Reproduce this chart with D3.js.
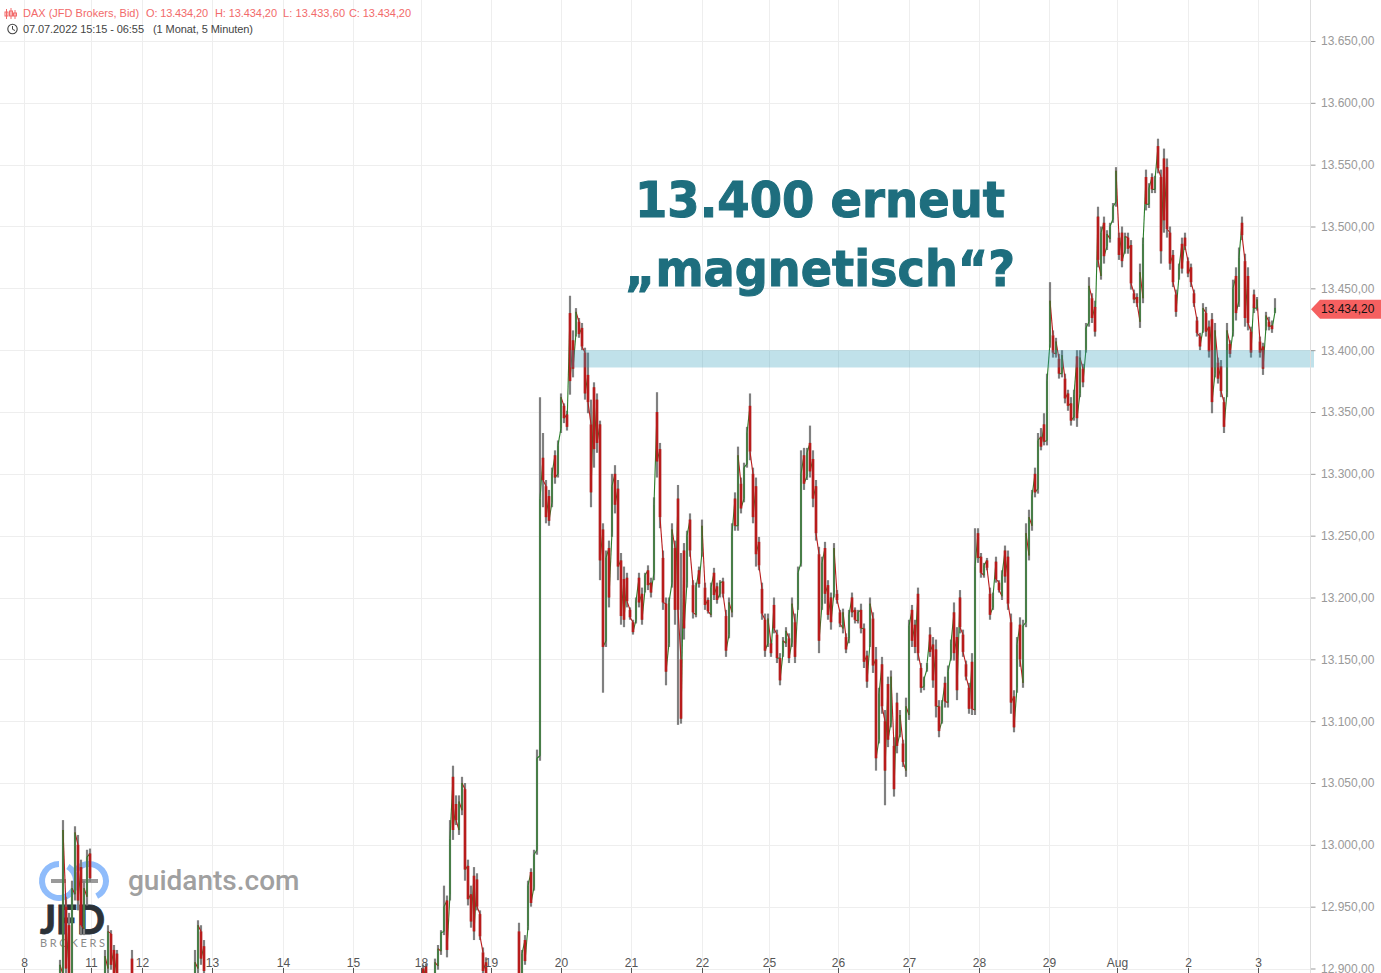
<!DOCTYPE html>
<html><head><meta charset="utf-8">
<script src="https://cdn.jsdelivr.net/npm/d3@7"></script>
<style>
html,body{margin:0;padding:0;background:#fff;overflow:hidden}
svg{display:block}
text{font-family:"Liberation Sans",Arial,sans-serif}
</style></head><body><svg id="c" width="1381" height="973"></svg>
<script>
// Rows are [high, low, open, close]
const jul08=[[12907,12890,12892,12903],[13020,12890,12895,13012],[12958,12895,12950,12900],[12945,12890,12935,12895],[12971,12890,12895,12965],[13015,12955,12960,13010],[13008,12947,13000,12955],[12988,12927,12982,12935],[12971,12927,12932,12965],[12996,12951,12958,12990],[12997,12970,12993,12973]];
const jul11a=[[12915,12890,12892,12910],[12935,12895,12900,12930],[12931,12899,12928,12903],[12919,12890,12915,12893],[12915,12890,12912,12893]];
const jul11b=[[12915,12890,12908,12892]];
const jul12=[[12915,12890,12893,12905],[12939,12895,12900,12935],[12935,12903,12930,12908],[12923,12895,12918,12898]];
const jul15=[[12903,12890,12900,12892],[12904,12890,12902,12893]];
const jul18=[[12908,12890,12892,12905],[12919,12899,12902,12916],[12931,12911,12914,12929],[12967,12927,12930,12950],[12959,12909,12955,12915],[13020,12955,12960,13005],[13064,13004,13055,13012],[13040,13016,13033,13020],[13040,13008,13012,13035],[13055,13024,13028,13050],[13050,12971,13045,12980],[12988,12951,12983,12956],[12967,12933,12960,12938],[12982,12923,12975,12930],[12977,12947,12972,12950],[12947,12923,12944,12926],[12917,12895,12913,12898],[12909,12890,12905,12892]];
const jul19=[[12937,12890,12930,12893],[12915,12890,12892,12912],[12927,12903,12923,12906],[12971,12931,12934,12967],[12981,12950,12978,12953],[12996,12963,12966,12992],[13077,12992,12996,13070],[13362,13068,13072,13280],[13333,13273,13313,13295],[13295,13260,13290,13265],[13287,13258,13282,13262],[13305,13273,13277,13300],[13319,13292,13315,13297],[13327,13297,13300,13323]];
const jul20=[[13365,13333,13337,13362],[13357,13341,13355,13345],[13351,13335,13348,13338],[13444,13364,13430,13375],[13416,13378,13408,13385],[13434,13411,13414,13431],[13426,13410,13423,13413],[13422,13400,13418,13403],[13402,13360,13398,13365],[13398,13349,13380,13358],[13360,13273,13340,13285],[13374,13305,13370,13320],[13365,13317,13360,13325],[13343,13214,13340,13230],[13260,13123,13255,13160],[13238,13160,13165,13232],[13246,13192,13240,13200],[13300,13249,13253,13290],[13307,13268,13300,13275],[13295,13214,13288,13225],[13236,13178,13230,13185],[13225,13176,13215,13182],[13220,13192,13216,13197]];
const jul21=[[13192,13182,13190,13184],[13182,13170,13180,13172],[13200,13179,13182,13197],[13220,13192,13216,13196],[13208,13178,13203,13182],[13220,13204,13206,13218],[13226,13206,13222,13210],[13216,13200,13212,13204],[13281,13214,13220,13275],[13366,13297,13350,13310],[13325,13256,13320,13265],[13238,13190,13232,13196],[13200,13129,13195,13140],[13200,13160,13163,13196],[13260,13208,13212,13255],[13246,13178,13240,13190],[13291,13097,13280,13190],[13236,13098,13150,13102],[13244,13166,13238,13175],[13254,13208,13212,13250],[13268,13233,13263,13238],[13214,13183,13210,13188],[13212,13184,13186,13208],[13225,13208,13222,13211]];
const jul22=[[13263,13233,13237,13258],[13212,13190,13208,13194],[13200,13187,13198,13189],[13212,13184,13186,13208],[13224,13198,13220,13202],[13212,13195,13209,13198],[13214,13200,13203,13212],[13216,13200,13213,13203],[13190,13152,13185,13157],[13200,13167,13170,13196],[13260,13184,13188,13252],[13285,13254,13280,13258],[13322,13254,13258,13315],[13297,13268,13292,13272],[13309,13277,13280,13305],[13338,13305,13308,13333],[13365,13311,13355,13318],[13305,13260,13300,13265],[13297,13225,13290,13235],[13249,13222,13245,13226],[13212,13182,13207,13187],[13187,13152,13182,13157]];
const jul25=[[13187,13160,13163,13183],[13166,13152,13163,13155],[13200,13171,13194,13175],[13174,13147,13170,13151],[13155,13129,13151,13133],[13168,13152,13155,13165],[13176,13160,13163,13173],[13171,13147,13167,13151],[13200,13160,13164,13195],[13187,13147,13180,13152],[13225,13190,13194,13220],[13319,13225,13228,13300],[13321,13287,13315,13292],[13321,13295,13298,13317],[13339,13297,13325,13302],[13319,13273,13312,13280],[13295,13246,13290,13252],[13241,13155,13235,13165],[13233,13190,13194,13228],[13245,13195,13240,13203],[13214,13182,13210,13186],[13204,13174,13200,13180],[13244,13200,13204,13240]];
const jul26=[[13206,13195,13203,13198],[13190,13176,13188,13179],[13191,13171,13175,13188],[13171,13155,13168,13158],[13190,13163,13167,13186],[13204,13184,13200,13188],[13192,13179,13190,13182],[13190,13179,13181,13188],[13195,13171,13190,13175],[13179,13143,13175,13148],[13157,13127,13153,13132],[13200,13160,13163,13195],[13188,13139,13183,13145],[13160,13060,13150,13070],[13127,13082,13085,13122],[13152,13106,13146,13112],[13109,13032,13100,13060],[13136,13079,13130,13085],[13141,13095,13099,13136],[13087,13039,13080,13045],[13123,13074,13115,13080],[13109,13087,13090,13105],[13085,13063,13082,13067],[13119,13055,13060,13112]];
const jul27=[[13182,13101,13105,13177],[13194,13160,13190,13165],[13182,13155,13178,13160],[13208,13149,13203,13155],[13147,13123,13143,13127],[13136,13125,13128,13134],[13147,13140,13142,13146],[13176,13152,13170,13156],[13168,13127,13162,13133],[13166,13103,13158,13112],[13117,13087,13112,13092],[13117,13098,13100,13114],[13136,13111,13131,13116],[13145,13111,13115,13140],[13166,13149,13152,13163],[13196,13149,13188,13155],[13176,13117,13168,13125],[13206,13171,13200,13176],[13174,13152,13170,13156],[13149,13133,13146,13136],[13131,13106,13127,13110],[13155,13105,13148,13110],[13256,13105,13109,13225]];
const jul28=[[13256,13228,13252,13232],[13236,13216,13233,13220],[13228,13216,13218,13226],[13232,13222,13230,13224],[13208,13182,13203,13186],[13204,13190,13192,13201],[13233,13212,13229,13215],[13214,13204,13212,13206],[13222,13198,13201,13218],[13242,13212,13238,13217],[13238,13190,13233,13195],[13187,13106,13180,13115],[13125,13091,13120,13095],[13168,13123,13127,13162],[13184,13144,13178,13150],[13182,13127,13131,13177],[13260,13176,13180,13252],[13271,13230,13234,13265],[13287,13254,13258,13282],[13305,13281,13300,13285],[13333,13284,13288,13327],[13337,13319,13330,13322],[13349,13323,13340,13326],[13381,13323,13327,13375]];
const jul29=[[13455,13402,13406,13440],[13416,13394,13412,13398],[13410,13394,13397,13407],[13397,13377,13393,13381],[13400,13378,13381,13396],[13381,13357,13377,13361],[13368,13351,13365,13355],[13362,13339,13357,13343],[13368,13343,13346,13364],[13400,13338,13395,13345],[13400,13362,13365,13394],[13389,13370,13385,13374],[13422,13398,13401,13418],[13459,13419,13423,13452],[13446,13422,13442,13426],[13440,13411,13435,13415],[13516,13467,13508,13473],[13500,13457,13460,13495],[13508,13470,13503,13476],[13497,13481,13484,13494],[13503,13487,13490,13500],[13519,13503,13506,13516]];
const aug01=[[13548,13516,13520,13545],[13495,13473,13491,13477],[13500,13467,13495,13472],[13495,13478,13481,13492],[13495,13478,13491,13482],[13489,13449,13485,13454],[13449,13438,13446,13441],[13446,13435,13443,13438],[13470,13418,13423,13463],[13491,13438,13442,13486],[13546,13513,13540,13518],[13535,13515,13518,13531],[13543,13527,13540,13530],[13541,13527,13530,13538],[13571,13543,13565,13547],[13546,13470,13540,13480],[13563,13495,13555,13505],[13555,13491,13548,13498],[13500,13465,13495,13470],[13481,13451,13477,13455],[13449,13427,13445,13431],[13470,13457,13460,13467],[13491,13462,13486,13466],[13495,13481,13491,13484]];
const aug02=[[13475,13459,13472,13462],[13470,13451,13467,13455],[13449,13435,13446,13438],[13427,13411,13424,13414],[13414,13400,13411,13403],[13438,13414,13417,13434],[13435,13411,13430,13415],[13424,13394,13419,13399],[13430,13349,13425,13358],[13422,13378,13381,13416],[13394,13373,13390,13377],[13392,13362,13387,13367],[13362,13333,13358,13338],[13422,13362,13366,13416],[13408,13394,13405,13397],[13457,13411,13415,13450],[13467,13424,13460,13430],[13483,13435,13440,13475],[13508,13489,13503,13493],[13478,13419,13472,13426],[13467,13416,13460,13422],[13419,13394,13415,13398],[13449,13430,13445,13434]];
const aug03=[[13443,13432,13434,13441],[13411,13394,13407,13398],[13406,13380,13403,13385],[13431,13416,13419,13428],[13427,13416,13423,13419],[13424,13414,13420,13417],[13442,13430,13431,13434.2]];

const runs=[[0,jul08],[15,jul11a],[24,jul11b],[45,jul12],[121,jul15],[125,jul18],[153,jul19],[167,jul20],[190,jul21],[214,jul22],[236,jul25],[259,jul26],[283,jul27],[306,jul28],[330,jul29],[352,aug01],[376,aug02],[399,aug03]];

const priceTicks=[13650,13600,13550,13500,13450,13400,13350,13300,13250,13200,13150,13100,13050,13000,12950,12900];
const dayTickBars=[-12,10.33,27.33,50.67,74.33,97.67,120.33,143.67,167,190.33,214,236.33,259.33,283,306.33,329.67,352.33,376,399.33];
const dayTickLabels=["8","11","12","13","14","15","18","19","20","21","22","25","26","27","28","29","Aug","2","3"];
const bandPrices=[13400,13386];
const bandBars=[170,418];
const lastPrice=13434.20;

const svg=d3.select("#c");
const x=d3.scaleLinear().domain([-20,420]).range([0,1320]);
const y=d3.scaleLinear().domain([13650,12900]).range([41,968.5]);
const de=d3.formatLocale({decimal:",",thousands:".",grouping:[3],currency:["","€"]});
const fmt=de.format(",.2f");
const crisp=v=>Math.round(v)+.5;

// grid
const grid=svg.append("g").attr("stroke","#eeeeee").attr("stroke-width",1);
grid.selectAll("line.h").data(priceTicks).join("line").attr("class","h")
 .attr("x1",0).attr("x2",1310).attr("y1",d=>crisp(y(d))).attr("y2",d=>crisp(y(d)));
grid.selectAll("line.v").data(dayTickBars).join("line").attr("class","v")
 .attr("x1",d=>crisp(x(d))).attr("x2",d=>crisp(x(d))).attr("y1",0).attr("y2",973);

// watermark
const wm=svg.append("g");
const arc=d3.arc().innerRadius(14).outerRadius(20);
wm.append("path").attr("transform","translate(59,881)").attr("fill","#8fbcfb")
 .attr("d",arc({startAngle:0.55,endAngle:Math.PI*2-0.9+0.55+0.35}));
wm.append("path").attr("transform","translate(89,881)").attr("fill","#8fbcfb")
 .attr("d",arc({startAngle:-0.9,endAngle:Math.PI*0.85}));
wm.selectAll("rect.d").data([[51,15],[82,16]]).join("rect").attr("class","d")
 .attr("x",d=>d[0]).attr("y",879).attr("width",d=>d[1]).attr("height",4).attr("fill","#9a9a9a");
wm.append("text").attr("x",128).attr("y",890).attr("font-size",28).attr("font-weight",500)
 .attr("fill","#a0a0a0").style("font-family","Roboto").text("guidants.com");
wm.append("text").attr("x",40).attr("y",934).attr("font-size",40).attr("font-weight",900)
 .attr("textLength",65).attr("lengthAdjust","spacingAndGlyphs").attr("fill","#2b3238")
 .attr("stroke","#2b3238").attr("stroke-width",.8).style("font-family","Lato").text("JFD");
wm.append("text").attr("x",40).attr("y",947).attr("font-size",11)
 .attr("textLength",65).attr("fill","#8c8c8c").style("font-family","Lato").text("BROKERS");

// bars
const bars=runs.flatMap(([s,rows])=>rows.map((r,k)=>({i:s+k,h:r[0],l:r[1],o:r[2],c:r[3]})));
const plot=svg.append("g");
const conn=[];
for(let k=1;k<bars.length;k++){ if(bars[k].i-bars[k-1].i===1) conn.push([bars[k-1],bars[k]]); }
plot.selectAll("line.w").data(bars).join("line").attr("class","w")
 .attr("x1",d=>x(d.i)).attr("x2",d=>x(d.i)).attr("y1",d=>y(d.h)).attr("y2",d=>y(d.l))
 .attr("stroke","#808080").attr("stroke-width",2.2);
plot.selectAll("path.k").data(conn).join("path").attr("class","k")
 .attr("d",([a,b])=>`M${x(a.i)},${y(a.c)}L${x(b.i)},${y(b.o)}`)
 .attr("stroke",([a,b])=>b.o<a.c?"#b81c1c":"#2a7d2a").attr("stroke-width",1.1).attr("fill","none");
const bodyW=d=>d.c>=d.o?1.3:2.6;
plot.selectAll("rect.b").data(bars).join("rect").attr("class","b")
 .attr("x",d=>x(d.i)-bodyW(d)/2).attr("width",bodyW)
 .attr("y",d=>y(Math.max(d.o,d.c))).attr("height",d=>Math.abs(y(d.o)-y(d.c)))
 .attr("fill",d=>d.c>=d.o?"#2a7d2a":"#b81c1c");

// band
svg.append("rect").attr("x",x(bandBars[0])).attr("width",x(bandBars[1])-x(bandBars[0]))
 .attr("y",y(bandPrices[0])).attr("height",y(bandPrices[1])-y(bandPrices[0]))
 .attr("fill","#2f9ab8").attr("fill-opacity",.3);

// headline
const head=svg.append("g").attr("text-anchor","middle").attr("fill","#1e6e7e").attr("font-weight",700)
 .attr("font-size",50).attr("stroke","#1e6e7e").attr("stroke-width",1.1);
head.append("text").attr("x",820).attr("y",217).attr("textLength",370).attr("lengthAdjust","spacingAndGlyphs")
 .style("font-family","'DejaVu Sans'").text("13.400 erneut");
head.append("text").attr("x",820).attr("y",286).attr("textLength",390).attr("lengthAdjust","spacingAndGlyphs")
 .style("font-family","'DejaVu Sans'").text("„magnetisch“?");

// right axis
const ra=d3.axisRight(y).tickValues(priceTicks).tickSize(5).tickPadding(5.5).tickFormat(fmt);
const rg=svg.append("g").attr("transform","translate(1310.5,0)").call(ra);
rg.select(".domain").remove();
svg.append("line").attr("x1",1310.5).attr("x2",1310.5).attr("y1",0).attr("y2",973).attr("stroke","#dddddd");
rg.selectAll("line").attr("stroke","#999");
rg.selectAll("text").attr("fill","#999").attr("font-size",12);

// bottom axis
const ba=d3.axisTop(x).tickValues(dayTickBars).tickSize(5).tickPadding(1).tickFormat((d,i)=>dayTickLabels[i]);
const bg=svg.append("g").attr("transform","translate(0,973)").call(ba);
bg.select(".domain").remove();
bg.selectAll("line").attr("stroke","#555");
bg.selectAll("text").attr("fill","#555").attr("font-size",12);

// price tag
const ty=y(lastPrice)+1.3;
svg.append("path").attr("d",`M1311,${ty}L1320,${ty-9.5}L1381,${ty-9.5}L1381,${ty+9.5}L1320,${ty+9.5}Z`).attr("fill","#f56060");
svg.append("text").attr("x",1321).attr("y",ty+4).attr("font-size",12).attr("fill","#111").text(fmt(lastPrice));

// legend
const red="#f26a6a";
const ic=svg.append("g").attr("stroke",red).attr("fill","none");
[[8,9,19],[12.5,8,19],[16.5,10,19]].forEach(([cx,a,b])=>{
 ic.append("line").attr("x1",cx-1.5).attr("x2",cx-1.5).attr("y1",a).attr("y2",b);
 ic.append("rect").attr("x",cx-3).attr("y",a+3).attr("width",3).attr("height",b-a-6);
});
svg.append("text").attr("x",23).attr("y",17).attr("font-size",11).attr("fill",red).text("DAX (JFD Brokers, Bid)");
[["O: 13.434,20",146],["H: 13.434,20",215],["L: 13.433,60",283],["C: 13.434,20",349]].forEach(([t,px])=>{
 svg.append("text").attr("x",px).attr("y",17).attr("font-size",11).attr("fill",red).attr("textLength",62).text(t);
});
svg.append("circle").attr("cx",12.5).attr("cy",29).attr("r",4.7).attr("fill","none").attr("stroke","#444").attr("stroke-width",1.1);
svg.append("path").attr("d","M12.5,26V29.3L15,30.5").attr("fill","none").attr("stroke","#444");
svg.append("text").attr("x",23).attr("y",33).attr("font-size",11).attr("fill","#444").attr("textLength",121).text("07.07.2022 15:15 - 06:55");
svg.append("text").attr("x",153).attr("y",33).attr("font-size",11).attr("fill","#444").attr("textLength",100).text("(1 Monat, 5 Minuten)");
</script></body></html>
